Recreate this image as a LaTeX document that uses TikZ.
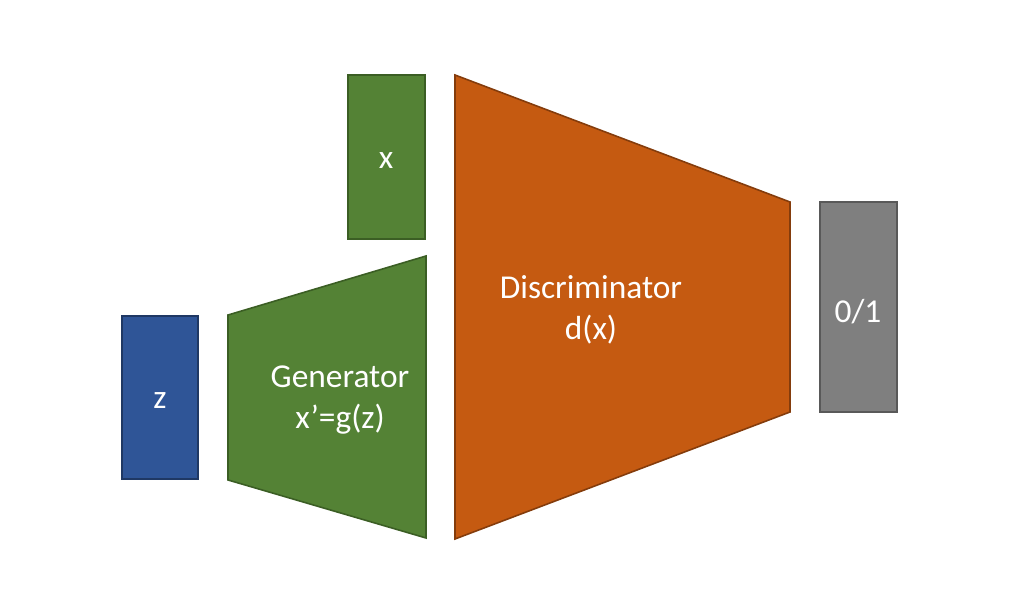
\documentclass[tikz,border=0pt]{standalone}
\usepackage{fontspec}
\setmainfont{Carlito}
\usetikzlibrary{calc}

\definecolor{gangreen}{HTML}{548235}
\definecolor{gangreenline}{HTML}{3B5E24}
\definecolor{ganblue}{HTML}{2F5597}
\definecolor{ganblueline}{HTML}{1F3864}
\definecolor{ganorange}{HTML}{C55A11}
\definecolor{ganorangeline}{HTML}{843C0C}
\definecolor{gangray}{HTML}{7F7F7F}
\definecolor{gangrayline}{HTML}{595959}

\begin{document}
\begin{tikzpicture}[
    x=0.02cm,
    y=-0.02cm,
    line join=miter,
    block/.style={
        line width=0.9pt
    },
    label/.style={
        text=white,
        font=\fontsize{19}{23}\selectfont,
        align=center,
        inner sep=0pt
    }
]
    % Canvas
    \useasboundingbox (0,0) rectangle (1024,614);

    % Generator geometry
    \pgfmathsetmacro{\gL}{228}
    \pgfmathsetmacro{\gR}{426}

    % Discriminator geometry
    \pgfmathsetmacro{\dL}{455}
    \pgfmathsetmacro{\dR}{790}

    % Input blocks
    \draw[block, fill=ganblue, draw=ganblueline] (122,316) rectangle (198,479);
    \draw[block, fill=gangreen, draw=gangreenline] (348,75) rectangle (425,239);

    % Generator
    \draw[block, fill=gangreen, draw=gangreenline]
        (\gL,315) -- (\gR,256) -- (\gR,538) -- (\gL,480) -- cycle;

    % Discriminator
    \draw[block, fill=ganorange, draw=ganorangeline]
        (\dL,75) -- (\dR,202) -- (\dR,412) -- (\dL,539) -- cycle;

    % Output block
    \draw[block, fill=gangray, draw=gangrayline] (820,202) rectangle (897,412);

    % Texts
    \node[label] (zlabel) at (160,401) {z};
    \node[label] (xlabel) at (386,161) {x};
    \node[label] (genlabel) at (340,400) {Generator\\x’=g(z)};
    \node[label] (disclabel) at (591,310) {Discriminator\\d(x)};
    \node[label] (outlabel) at (858,312) {0/1};
\end{tikzpicture}
\end{document}
